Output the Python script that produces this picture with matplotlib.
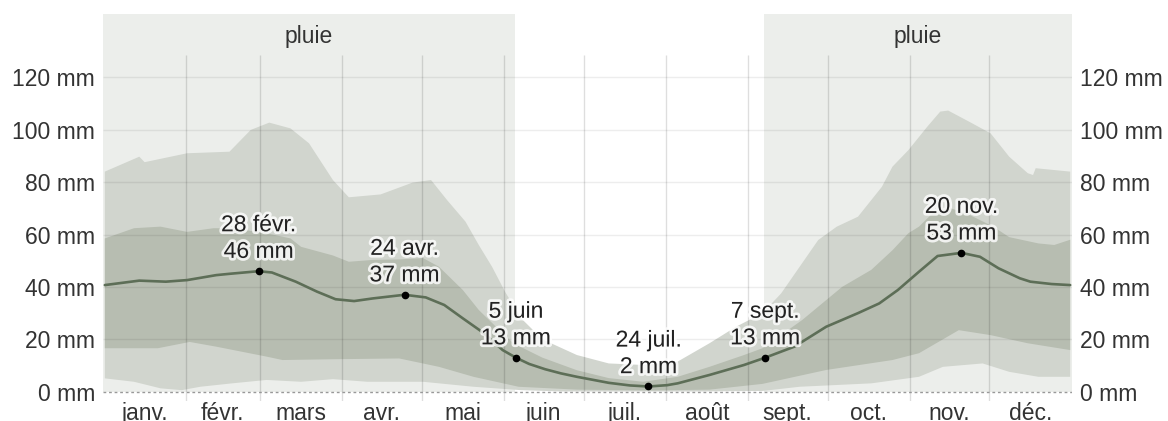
import numpy as np
import matplotlib.pyplot as plt
import matplotlib.patheffects as pe

plt.rcParams['font.family'] = ['Liberation Sans', 'DejaVu Sans']

# month labels and first day of each month (day of year, 0 = 1 janv.)
months = ['janv.', 'févr.', 'mars', 'avr.', 'mai', 'juin',
          'juil.', 'août', 'sept.', 'oct.', 'nov.', 'déc.']
month_start = [0, 31, 59, 90, 120, 151, 181, 212, 243, 273, 304, 334, 365]

# rainy season spans (day of year)
rain_spans = [(0, 155), (249, 365)]
rain_label = 'pluie'

# median (mm)
med_days = [0, 13, 23, 31, 42, 47, 58, 63, 72, 80, 87, 94, 101, 113, 121, 128,
            135, 143, 150, 155, 160, 166, 172, 178, 190, 198, 205, 212, 216,
            228, 241, 249, 260, 272, 284, 292, 299, 307, 314, 323, 330, 337,
            345, 349, 357, 364]
med_vals = [40.7, 42.4, 42.0, 42.6, 44.5, 45.0, 46.0, 45.5, 42.0, 38.2, 35.3,
            34.6, 35.6, 37.0, 36.0, 33.1, 28.0, 22.3, 15.9, 13.0, 10.6, 8.6,
            7.0, 5.7, 3.4, 2.4, 2.0, 2.5, 3.2, 6.4, 10.2, 13.0, 17.2, 24.8,
            30.0, 33.7, 38.8, 45.8, 51.8, 53.0, 51.5, 47.1, 43.3, 42.0, 41.1,
            40.7]

# 90th percentile
p90_days = [0, 13, 15, 31, 47, 55, 62, 70, 77, 86, 92, 104, 116, 123, 129,
            136, 141, 146, 151, 157, 165, 178, 190, 203, 216, 228, 238, 248,
            255, 262, 269, 276, 284, 293, 297, 303, 310, 315, 318, 326, 334,
            341, 348, 350, 351, 358, 364]
p90_vals = [84.0, 89.7, 87.6, 91.0, 91.6, 99.9, 102.7, 100.5, 94.8, 80.8, 74.2,
            75.3, 79.8, 80.8, 73.2, 64.9, 56.0, 47.7, 38.0, 28.0, 20.0, 14.0,
            10.8, 10.2, 11.5, 18.5, 24.8, 30.0, 37.5, 47.7, 57.9, 63.0, 66.8,
            78.2, 85.9, 92.2, 101.0, 106.9, 107.3, 103.0, 98.6, 89.7, 83.4,
            82.7, 85.3, 84.6, 84.0]

# 75th percentile
p75_days = [0, 11, 21, 31, 41, 48, 61, 70, 74, 86, 92, 101, 111, 120, 126,
            135, 141, 148, 154, 165, 178, 190, 203, 216, 228, 241, 248, 263,
            278, 289, 297, 303, 307, 312, 319, 325, 335, 341, 352, 358, 364]
p75_vals = [58.5, 62.4, 63.0, 61.0, 62.4, 62.4, 60.5, 58.5, 55.3, 52.0, 49.6,
            50.3, 50.5, 51.0, 47.7, 38.8, 31.2, 24.3, 18.5, 13.0, 8.2, 5.2, 3.8,
            5.7, 9.5, 14.0, 16.6, 27.4, 40.0, 46.5, 54.0, 60.5, 63.0, 68.0,
            70.0, 68.0, 63.0, 59.0, 56.6, 56.0, 58.0]

# 25th percentile
p25_days = [0, 20, 32, 42, 61, 67, 86, 111, 126, 139, 156, 178, 206, 228, 248,
            272, 297, 307, 322, 334, 348, 364]
p25_vals = [16.6, 16.6, 19.0, 17.2, 13.4, 12.1, 12.4, 12.7, 9.5, 5.7, 1.9, 0.8,
            0.5, 0.8, 3.0, 8.3, 12.1, 14.7, 23.5, 21.6, 18.5, 15.9]

# 10th percentile
p10_days = [0, 11, 21, 29, 36, 48, 61, 74, 86, 99, 120, 139, 157, 172, 224,
            248, 262, 289, 307, 316, 331, 341, 352, 364]
p10_vals = [5.1, 3.8, 1.3, 0.6, 1.9, 3.2, 4.5, 3.8, 4.8, 3.8, 3.8, 1.9, 0.6,
            0.1, 0.1, 0.3, 1.9, 3.2, 5.7, 9.5, 10.8, 7.6, 5.7, 5.7]

# annotated points
ann_days = [58, 113, 155, 205, 249, 323]
ann_vals = [46, 37, 13, 2, 13, 53]
ann_dates = ['28 févr.', '24 avr.', '5 juin', '24 juil.', '7 sept.', '20 nov.']

yticks = [0, 20, 40, 60, 80, 100, 120]

fig = plt.figure(figsize=(11.68, 4.21), dpi=100)
ax = fig.add_axes([103.5 / 1168, 20.1 / 421, 968 / 1168, 386.5 / 421])
ymin, ymax = -3.5, 144
ax.set_xlim(0, 365)
ax.set_ylim(ymin, ymax)

txt = '#333333'
fs = 16.5

# rainy season background
for a, b in rain_spans:
    ax.fill_between([a, b], 0, ymax, color='#eceeeb', lw=0, zorder=0)
    ax.text((a + b) / 2, 135.5, rain_label, ha='center', va='center',
            fontsize=fs, color=txt)

# bands (x shifted half a day to centre each day)
def sx(d):
    return np.asarray(d) + 0.5

ax.fill(np.concatenate([sx(p90_days), sx(p10_days)[::-1]]),
        np.concatenate([p90_vals, p10_vals[::-1]]),
        color='#d1d5ce', lw=0, zorder=1)
ax.fill(np.concatenate([sx(p75_days), sx(p25_days)[::-1]]),
        np.concatenate([p75_vals, p25_vals[::-1]]),
        color='#b7bdb1', lw=0, zorder=1)

# grid
ax.hlines(yticks[1:], 0, 365, color=(0, 0, 0, 0.07), lw=1, zorder=2)
ax.vlines(month_start[1:-1], ymin, 128.5, color=(0, 0, 0, 0.13), lw=1, zorder=2)
ax.hlines(0, 0, 365, color='#999999', lw=1, linestyles=(0, (2, 2)), zorder=2)

# median
ax.plot(sx(med_days), med_vals, color='#5d6e57', lw=1.9, zorder=3,
        solid_capstyle='round', solid_joinstyle='round')

halo = [pe.withStroke(linewidth=4, foreground=(1, 1, 1, 0.8))]
for d, v, lab in zip(ann_days, ann_vals, ann_dates):
    ax.plot(d + 0.5, v, 'o', color='black', ms=4.5, zorder=4)
    ax.annotate(f'{lab}\n{v} mm', (d + 0.5, v), xytext=(0, 6),
                textcoords='offset points', ha='center', va='bottom',
                fontsize=fs, color='#222222', zorder=5, path_effects=halo,
                linespacing=1.2)

# axes
mids = [(month_start[i] + month_start[i + 1]) / 2 for i in range(12)]
ax.set_xticks(mids)
ax.set_xticklabels(months, fontsize=fs, color=txt)
ax.tick_params(axis='x', length=0, pad=0.5)
ax.set_yticks(yticks)
ax.set_yticklabels([f'{t} mm' for t in yticks], fontsize=fs, color=txt)
ax.tick_params(axis='y', length=0, pad=6, labelright=True, right=False)
for s in ax.spines.values():
    s.set_visible(False)
ax.set_facecolor('white')

fig.savefig('out.png', dpi=100)
